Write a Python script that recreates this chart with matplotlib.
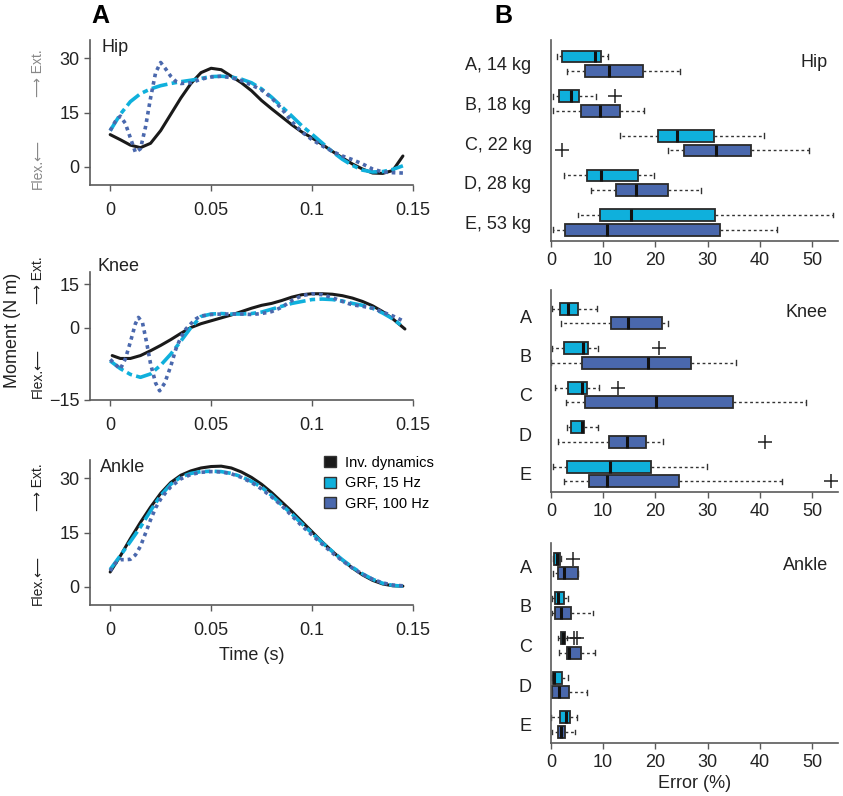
import matplotlib
matplotlib.use("Agg")
import matplotlib.pyplot as plt
from matplotlib.patches import Patch

plt.rcParams['font.family'] = ['Liberation Sans', 'DejaVu Sans']

# ---------------- Panel A data: joint moments (N m) vs time (s) ----------------
T_STD = [0, 0.005, 0.01, 0.015, 0.02, 0.025, 0.03, 0.035, 0.04, 0.045, 0.05,
         0.055, 0.06, 0.065, 0.07, 0.075, 0.08, 0.085, 0.09, 0.095, 0.10,
         0.105, 0.11, 0.115, 0.12, 0.125, 0.13, 0.135, 0.14, 0.145]

hip_inv = [8.9, 7.5, 6.0, 5.3, 6.5, 10, 14.5, 19, 23, 26, 27.2, 26.8, 25, 23.2, 21,
           18.3, 16, 13.8, 11.6, 9.6, 8, 6.2, 4.3, 2.5, 0.8, -0.6, -1.7, -1.8, -1.0, 3.0]
hip_15 = [10, 14.5, 18, 20.2, 21.5, 22.4, 23, 23.5, 23.9, 24.4, 24.9, 25, 24.8, 24.2, 23.2,
          21.5, 19.2, 16.6, 14, 11.3, 9, 6.6, 4.2, 2.1, 0.4, -0.9, -1.4, -1.3, -0.7, 0.3]
t_hip_100 = [0, 0.0025, 0.005, 0.0075, 0.01, 0.0125, 0.015, 0.0175, 0.02, 0.0225, 0.025,
             0.0275, 0.03, 0.0325, 0.035, 0.04, 0.045, 0.05, 0.055, 0.06, 0.065, 0.07,
             0.075, 0.08, 0.085, 0.09, 0.095, 0.10, 0.105, 0.11, 0.115, 0.12, 0.125,
             0.13, 0.135, 0.14, 0.145]
hip_100 = [10, 12.5, 14, 12, 8, 4, 5, 11, 19, 26, 28.8, 27, 25, 23.6, 23, 23.2, 24.2, 24.8,
           25, 24.6, 23.8, 22.6, 21.2, 19, 16, 12.5, 9.6, 7.5, 5.8, 4.3, 3, 2, 0.8, -0.6,
           -1.4, -1.6, -1.7]

t_knee_inv = [0.001, 0.005, 0.01, 0.015, 0.02, 0.025, 0.03, 0.035, 0.04, 0.045, 0.05,
              0.055, 0.06, 0.065, 0.07, 0.075, 0.08, 0.085, 0.09, 0.095, 0.10, 0.105,
              0.11, 0.115, 0.12, 0.125, 0.13, 0.135, 0.14, 0.146]
knee_inv = [-5.8, -6.4, -6.4, -5.8, -4.8, -3.7, -2.5, -1.2, 0, 0.8, 1.4, 2, 2.6, 3.3, 4,
            4.6, 5, 5.6, 6.3, 6.8, 7.0, 7.0, 6.9, 6.6, 6.1, 5.4, 4.5, 3.3, 1.8, -0.3]
knee_15 = [-6.9, -8.5, -9.7, -10.3, -9.6, -7.8, -5.5, -2.8, 0, 2.3, 2.8, 2.9, 2.8, 2.8, 2.9,
           3.2, 3.8, 4.4, 5, 5.4, 5.8, 5.9, 5.8, 5.5, 5.0, 4.6, 4.0, 3.0, 1.8, 0.2]
t_knee_100 = [0, 0.0025, 0.005, 0.0075, 0.01, 0.0125, 0.014, 0.016, 0.018, 0.02, 0.0225,
              0.0245, 0.027, 0.03, 0.0325, 0.035, 0.0375, 0.04, 0.0425, 0.045, 0.05, 0.055,
              0.06, 0.065, 0.07, 0.075, 0.08, 0.085, 0.09, 0.095, 0.10, 0.105, 0.11, 0.115,
              0.12, 0.125, 0.13, 0.135, 0.14, 0.145]
knee_100 = [-6.6, -7.6, -8.6, -6.5, -3, 0.8, 2.1, 1.0, -3, -7.5, -11.5, -13.1, -11.5, -8,
            -4.5, -2, -0.3, 0.8, 1.8, 2.4, 2.7, 2.8, 2.8, 2.8, 2.7, 2.9, 3.3, 4.2, 5.6, 6.6,
            7.0, 6.8, 6.2, 5.4, 4.7, 4.4, 4.0, 3.2, 2.4, 1.4]

ankle_inv = [4.1, 8.5, 13.3, 17.8, 22, 25.8, 28.8, 30.8, 32, 32.8, 33.2, 33.3, 32.8, 31.7,
             30.2, 28.3, 26, 23.4, 20.8, 18, 15.2, 12.4, 9.8, 7.4, 5.2, 3.3, 1.8, 0.8, 0.3, 0.2]
ankle_15 = [4.8, 8.6, 12.5, 16.5, 21, 25.2, 28.3, 30.3, 31.3, 31.8, 31.9, 31.8, 31.3, 30.4,
            29.1, 27.5, 25.2, 22.6, 20.1, 17.4, 14.8, 12.2, 9.8, 7.5, 5.4, 3.6, 2.1, 1.0, 0.4, 0.2]
t_ankle_100 = [0, 0.0025, 0.005, 0.0075, 0.01, 0.0125, 0.015, 0.0175, 0.02, 0.0225, 0.025,
               0.0275, 0.03, 0.035, 0.04, 0.045, 0.05, 0.055, 0.06, 0.065, 0.07, 0.075,
               0.08, 0.085, 0.09, 0.095, 0.10, 0.105, 0.11, 0.115, 0.12, 0.125, 0.13,
               0.135, 0.14, 0.145]
ankle_100 = [4.4, 6.5, 7.5, 7.5, 7.6, 8.8, 11.2, 14.8, 18.5, 21.8, 24.2, 26, 27.6, 29.8, 31,
             31.6, 31.8, 31.7, 31.2, 30.2, 28.8, 27, 24.8, 22.4, 19.6, 16.8, 14.3, 11.8, 9.4,
             7.2, 5.2, 3.5, 2.1, 1.1, 0.5, 0.3]

time_ticks = [0, 0.05, 0.1, 0.15]
time_tick_labels = ['0', '0.05', '0.1', '0.15']

# ---------------- Panel B data: error (%) box statistics ----------------
# each row: [whisker low, Q1, median, Q3, whisker high]
hip_labels = ['A, 14 kg', 'B, 18 kg', 'C, 22 kg', 'D, 28 kg', 'E, 53 kg']
subj_labels = ['A', 'B', 'C', 'D', 'E']

hip_err_15 = [[1.2, 2.1, 8.4, 9.5, 11.0], [0.4, 1.5, 3.8, 5.3, 8.6], [13.2, 20.5, 24.1, 31.3, 40.8],
              [2.4, 6.9, 9.5, 16.6, 19.8], [5.1, 9.3, 15.4, 31.4, 54.0]]
hip_err_100 = [[3.0, 6.5, 11.2, 17.6, 24.7], [0.3, 5.7, 9.3, 13.2, 17.8], [22.4, 25.5, 31.6, 38.3, 49.5],
               [7.6, 12.5, 16.2, 22.4, 28.8], [0.4, 2.6, 10.7, 32.3, 43.3]]
hip_out_15 = [[], [12.3], [], [], []]
hip_out_100 = [[], [], [2.2], [], []]

knee_err_15 = [[0.2, 1.8, 3.2, 5.2, 8.8], [0.2, 2.5, 6.1, 7.1, 9.0], [0.8, 3.3, 5.9, 6.9, 9.2],
               [3.0, 3.9, 5.9, 6.4, 9.0], [0.3, 3.0, 11.3, 19.2, 29.8]]
knee_err_100 = [[2.0, 11.5, 14.8, 21.3, 22.4], [0.0, 6.0, 18.5, 26.9, 35.4], [2.9, 6.6, 20.1, 34.8, 48.9],
                [1.4, 11.2, 14.5, 18.3, 21.5], [2.4, 7.3, 10.7, 24.5, 44.3]]
knee_out_15 = [[], [20.7], [12.9], [], []]
knee_out_100 = [[], [], [], [41.1], [53.7]]

ankle_err_15 = [[0.3, 0.6, 1.1, 1.7, 1.9], [0.1, 0.8, 1.3, 2.4, 3.3], [1.4, 1.9, 2.3, 2.7, 3.1],
                [0.1, 0.3, 0.6, 2.2, 3.2], [0.0, 1.7, 2.9, 3.6, 4.9]]
ankle_err_100 = [[0.3, 1.3, 2.4, 5.2, 5.2], [0.1, 0.8, 1.9, 3.8, 8.0], [1.6, 3.0, 3.5, 5.7, 8.4],
                 [0.1, 0.25, 1.6, 3.5, 6.9], [0.1, 1.3, 1.9, 2.7, 4.6]]
ankle_out_15 = [[4.3], [], [4.5, 4.9], [], []]
ankle_out_100 = [[], [], [], [], []]

err_ticks = [0, 10, 20, 30, 40, 50]

# ---------------- styling ----------------
C_INV = '#1a1a1a'
C_15 = '#0fb0dc'
C_100 = '#4a68ad'
SPINE = '#5a5a5a'
TXT = '#222222'

W, H = 843, 796
fig = plt.figure(figsize=(W / 100, H / 100), dpi=100)


def rect(x0, top, x1, bottom):
    return [x0 / W, 1 - bottom / H, (x1 - x0) / W, (bottom - top) / H]


def style_axes(ax):
    for s in ['top', 'right']:
        ax.spines[s].set_visible(False)
    for s in ['left', 'bottom']:
        ax.spines[s].set_color(SPINE)
        ax.spines[s].set_linewidth(1.2)
    ax.tick_params(colors=SPINE, labelcolor=TXT, labelsize=13, length=4, width=1)


# ---------------- Panel A ----------------
axA_hip = fig.add_axes(rect(90, 40, 413, 185))
axA_knee = fig.add_axes(rect(90, 272, 413, 400))
axA_ank = fig.add_axes(rect(90, 460, 413, 605))

lw_inv, lw_f = 2.2, 2.6
ls15 = (0, (4.5, 1.2, 1.5, 1.2))
ls100 = (0, (1.0, 1.1))

series = [
    (axA_hip, (T_STD, hip_inv), (T_STD, hip_15), (t_hip_100, hip_100)),
    (axA_knee, (t_knee_inv, knee_inv), (T_STD, knee_15), (t_knee_100, knee_100)),
    (axA_ank, (T_STD, ankle_inv), (T_STD, ankle_15), (t_ankle_100, ankle_100)),
]
for ax, inv, f15, f100 in series:
    ax.plot(*inv, color=C_INV, lw=lw_inv, solid_capstyle='round', zorder=3)
    ax.plot(*f15, color=C_15, lw=lw_f, ls=ls15, zorder=4)
    ax.plot(*f100, color=C_100, lw=lw_f, ls=ls100, zorder=5)
    style_axes(ax)
    ax.set_xlim(-0.01, 0.15)
    ax.set_xticks(time_ticks)
    ax.set_xticklabels(time_tick_labels)
    ax.tick_params(axis='x', pad=8)

axA_hip.set_ylim(-5, 35)
axA_hip.set_yticks([0, 15, 30])
axA_ank.set_ylim(-5, 35)
axA_ank.set_yticks([0, 15, 30])
axA_knee.set_ylim(-15, 11.5)
axA_knee.set_yticks([-15, 0, 9])
axA_knee.set_yticklabels(['\u221215', '0', '15'])

axA_hip.text(0.037, 0.95, 'Hip', transform=axA_hip.transAxes, fontsize=13, color=TXT, va='center')
axA_knee.text(0.022, 1.04, 'Knee', transform=axA_knee.transAxes, fontsize=13, color=TXT, va='center')
axA_ank.text(0.03, 0.95, 'Ankle', transform=axA_ank.transAxes, fontsize=13, color=TXT, va='center')

axA_ank.set_xlabel('Time (s)', fontsize=13, color=TXT, labelpad=6)

# flex / ext annotations
for (yext, yflex, col) in [(73, 164, '#888888'), (280, 373, TXT), (487, 580, TXT)]:
    fig.text(38 / W, 1 - yext / H, '\u27f6 Ext.', rotation=90, ha='center', va='center',
             fontsize=10, color=col)
    fig.text(38 / W, 1 - yflex / H, 'Flex.\u27f5', rotation=90, ha='center', va='center',
             fontsize=10, color=col)
fig.text(13 / W, 1 - 330 / H, 'Moment (N m)', rotation=90, ha='center', va='center',
         fontsize=13, color=TXT)

handles = [Patch(facecolor=C_INV, edgecolor='#333333'),
           Patch(facecolor=C_15, edgecolor='#333333'),
           Patch(facecolor=C_100, edgecolor='#333333')]
axA_ank.legend(handles, ['Inv. dynamics', 'GRF, 15 Hz', 'GRF, 100 Hz'], loc='upper left',
               bbox_to_anchor=(0.725, 1.03), frameon=False, fontsize=10.5, handlelength=0.8,
               handleheight=0.8, handletextpad=0.6, labelspacing=0.45, borderpad=0,
               borderaxespad=0)

fig.text(100 / W, 1 - 16 / H, 'A', fontsize=18, fontweight='bold', ha='center', va='center')
fig.text(503 / W, 1 - 16 / H, 'B', fontsize=18, fontweight='bold', ha='center', va='center')

# ---------------- Panel B ----------------
axB_hip = fig.add_axes(rect(551, 40, 838, 240.7))
axB_knee = fig.add_axes(rect(551, 290, 838, 491.7))
axB_ank = fig.add_axes(rect(551, 543, 838, 743))


def stats(rows, outs):
    return [dict(whislo=r[0], q1=r[1], med=r[2], q3=r[3], whishi=r[4], fliers=o)
            for r, o in zip(rows, outs)]


def draw_boxes(ax, e15, o15, e100, o100, ylabels, ylim, name, name_y):
    n = len(ylabels)
    pos15 = [i - 0.185 for i in range(n)]
    pos100 = [i + 0.185 for i in range(n)]
    for st, pos, col in [(stats(e15, o15), pos15, C_15), (stats(e100, o100), pos100, C_100)]:
        ax.bxp(st, positions=pos, vert=False, widths=0.3, patch_artist=True,
               capwidths=0.12, manage_ticks=False,
               boxprops=dict(facecolor=col, edgecolor='#2a2a2a', linewidth=1.3),
               medianprops=dict(color='#111111', linewidth=2.2),
               whiskerprops=dict(color='#333333', linewidth=1.0, linestyle=(0, (2, 2))),
               capprops=dict(color='#333333', linewidth=1.0),
               flierprops=dict(marker='+', markersize=10, markeredgecolor='#222222',
                               markeredgewidth=1.1, linestyle='none'))
    style_axes(ax)
    ax.set_xlim(0, 55)
    ax.set_xticks(err_ticks)
    ax.set_ylim(*ylim)
    ax.set_yticks(range(n))
    ax.set_yticklabels(ylabels)
    ax.tick_params(axis='y', length=0, pad=14)
    ax.tick_params(axis='x', pad=4)
    ax.text(0.965, name_y, name, transform=ax.transAxes, ha='right', va='center',
            fontsize=13, color=TXT)


draw_boxes(axB_hip, hip_err_15, hip_out_15, hip_err_100, hip_out_100, hip_labels,
           (4.46, -0.6), 'Hip', 0.89)
draw_boxes(axB_knee, knee_err_15, knee_out_15, knee_err_100, knee_out_100, subj_labels,
           (4.45, -0.66), 'Knee', 0.886)
draw_boxes(axB_ank, ankle_err_15, ankle_out_15, ankle_err_100, ankle_out_100, subj_labels,
           (4.46, -0.58), 'Ankle', 0.89)
axB_ank.set_xlabel('Error (%)', fontsize=13, color=TXT, labelpad=3)

fig.savefig('out.png', dpi=100)
